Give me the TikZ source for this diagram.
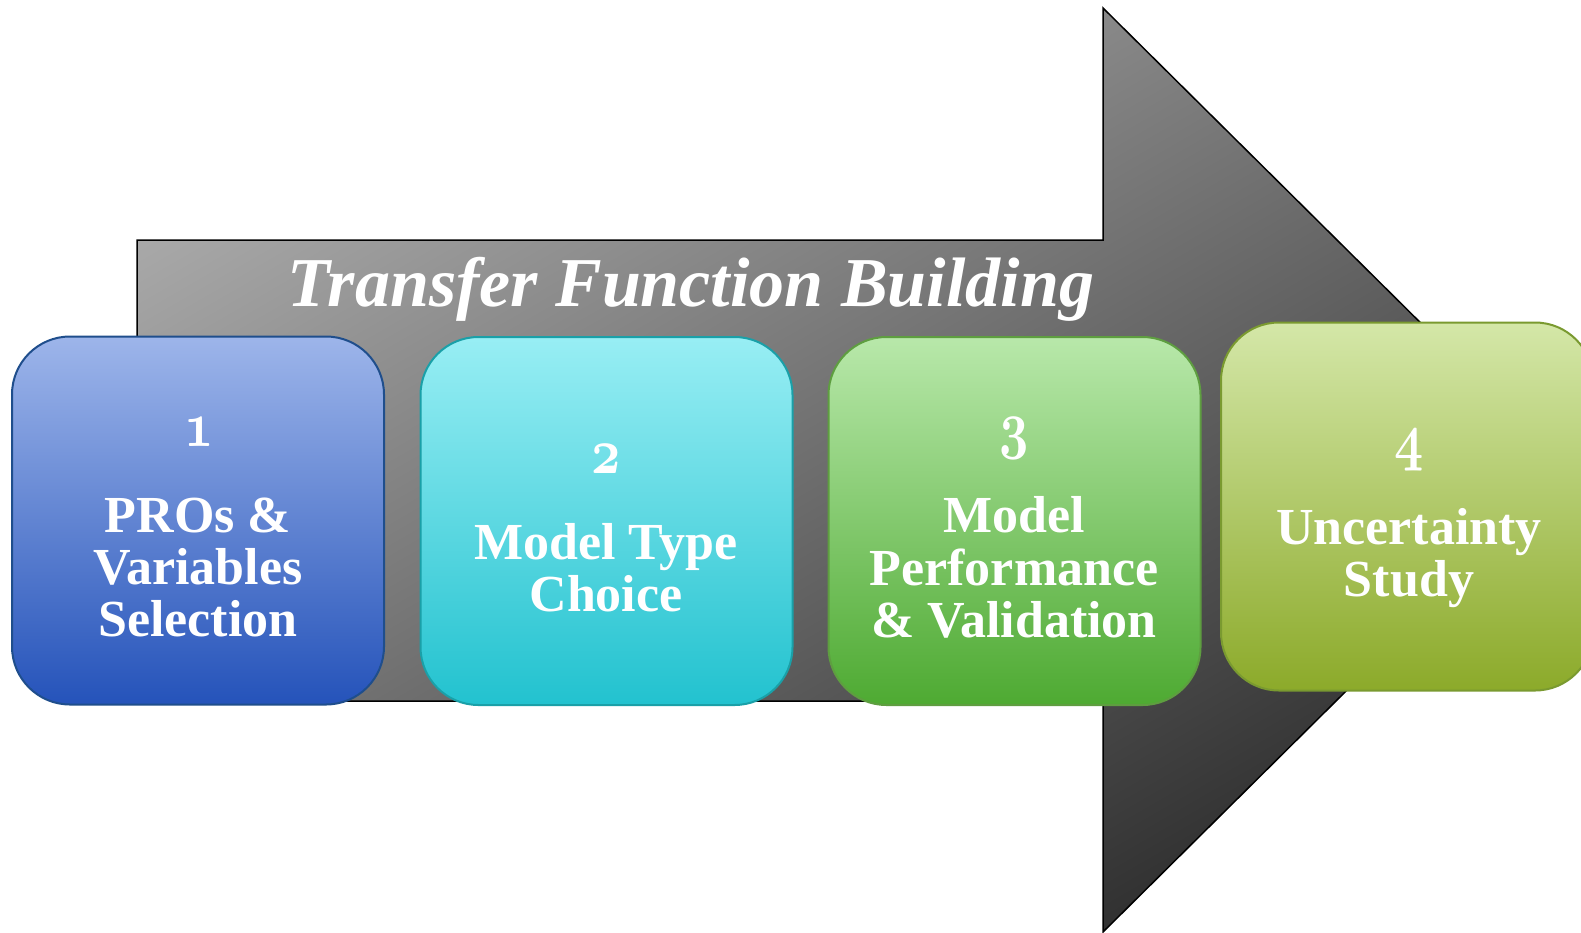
\documentclass[tikz,border=0pt]{standalone}
\usepackage{fontspec}
\setmainfont{Liberation Serif}
\definecolor{arrowtop}{HTML}{A8A8A8}
\definecolor{arrowbot}{HTML}{2E2E2E}
\definecolor{bAtop}{HTML}{9DB5EA}
\definecolor{bAmid}{HTML}{5E89DA}
\definecolor{bAbot}{HTML}{2553BA}
\definecolor{bAline}{HTML}{1F4E8C}
\definecolor{bBtop}{HTML}{98EEF4}
\definecolor{bBmid}{HTML}{55D8E3}
\definecolor{bBbot}{HTML}{22C2CF}
\definecolor{bBline}{HTML}{1AA0A8}
\definecolor{bCtop}{HTML}{B8E8AA}
\definecolor{bCmid}{HTML}{8ED47A}
\definecolor{bCbot}{HTML}{4EAA32}
\definecolor{bCline}{HTML}{5E9E40}
\definecolor{bDtop}{HTML}{D4E7A8}
\definecolor{bDmid}{HTML}{B5CF70}
\definecolor{bDbot}{HTML}{8CAA2A}
\definecolor{bDline}{HTML}{7A9A30}
\newcommand{\osnum}[1]{\scalebox{2.05}[2.6]{\fontsize{24.88}{24.88}\selectfont\boldmath$\mathnormal{#1}$}}
\tikzset{
  stepbox/.style={draw, line width=2pt, rounded corners=58pt, minimum width=372pt, minimum height=368pt, inner sep=0pt},
  boxtxt/.style={text=white, font=\fontsize{52}{52}\selectfont\bfseries, anchor=base, inner sep=0pt},
  numtxt/.style={text=white, anchor=base, inner sep=0pt},
  titletxt/.style={text=white, font=\fontsize{70}{70}\selectfont\bfseries\itshape, anchor=base, inner sep=0pt}
}
\begin{document}
\begin{tikzpicture}[x=1pt,y=-1pt]
\useasboundingbox (0,0) rectangle (1581,932);
\clip (0,0) rectangle (1581,932);
\fill[white] (0,0) rectangle (1581,932);
\shadedraw[top color=arrowtop, bottom color=arrowbot, shading angle=30, draw=black, line width=1.5pt]
  (137,240) -- (1103,240) -- (1103,8) -- (1569,470) -- (1103,932) -- (1103,701) -- (137,701) -- cycle;
\node[titletxt] (title) at (691,306) {Transfer Function Building};
\node[stepbox, draw=bAline, top color=bAtop, middle color=bAmid, bottom color=bAbot] (b1) at (198,520.5) {};
\node[stepbox, draw=bBline, top color=bBtop, middle color=bBmid, bottom color=bBbot] (b2) at (606.5,521) {};
\node[stepbox, draw=bCline, top color=bCtop, middle color=bCmid, bottom color=bCbot] (b3) at (1014.5,521) {};
\node[stepbox, draw=bDline, top color=bDtop, middle color=bDmid, bottom color=bDbot] (b4) at (1407,506.5) {};
\node[numtxt] (n1) at (199,446) {\osnum{1}};
\node[boxtxt] (t1a) at (198,532) {PROs \&};
\node[boxtxt] (t1b) at (198,584) {Variables};
\node[boxtxt] (t1c) at (198,636) {Selection};
\node[numtxt] (n2) at (606,473) {\osnum{2}};
\node[boxtxt] (t2a) at (606,559) {Model Type};
\node[boxtxt] (t2b) at (606,611) {Choice};
\node[numtxt] (n3) at (1014,446) {\osnum{3}};
\node[boxtxt] (t3a) at (1014,532) {Model};
\node[boxtxt] (t3b) at (1014,585) {Performance};
\node[boxtxt] (t3c) at (1014,637) {\& Validation};
\node[numtxt] (n4) at (1409,458) {\osnum{4}};
\node[boxtxt] (t4a) at (1409,544) {Uncertainty};
\node[boxtxt] (t4b) at (1409,596) {Study};
\end{tikzpicture}
\end{document}
